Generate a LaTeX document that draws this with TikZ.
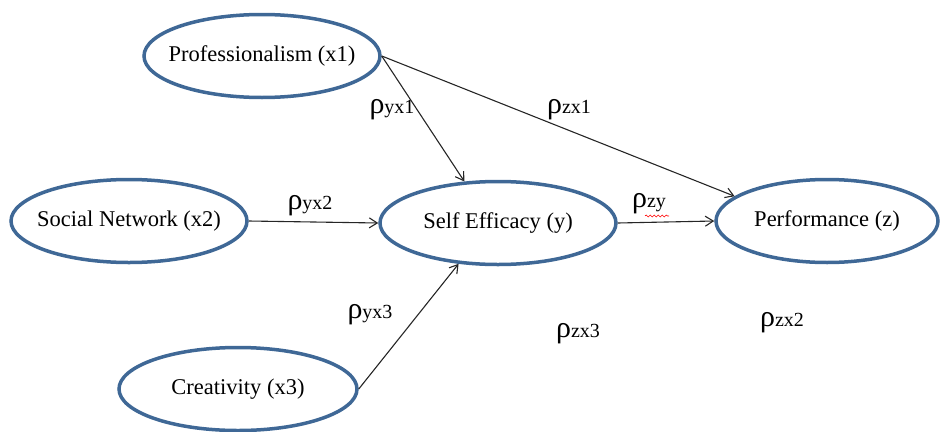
\documentclass[tikz,border=0pt]{standalone}
\usepackage{fontspec}
\setmainfont{Liberation Serif}
\usetikzlibrary{arrows.meta,shapes.geometric,decorations.pathmorphing}

\definecolor{varblue}{RGB}{63,104,150}
\newcommand{\rhocoef}[1]{{\fontsize{30}{30}\selectfont ρ}{\fontsize{20}{20}\selectfont #1}}

\tikzset{
  var/.style={ellipse, draw=varblue, line width=3.5pt, minimum width=236pt,
    minimum height=83pt, inner xsep=-14pt, inner ysep=0pt, font=\fontsize{22.5}{26}\selectfont},
  link/.style={draw=black!85, line width=1.1pt, -{Straight Barb[length=8pt,width=10pt]}},
  coef/.style={inner sep=0pt}
}

\begin{document}
\begin{tikzpicture}[x=1pt,y=-1pt]

      % keep the page the size of the reference
      \useasboundingbox (0,0) rectangle (941,431);

      % the five variables
      \node[var] (prof) at (262,56) {Professionalism (x1)};
      \node[var] (soc) at (129,221) {Social Network (x2)};
      \node[var] (self) at (498,223) {Self Efficacy (y)};
      \node[var, minimum width=222pt] (perf) at (827,221) {Performance (z)};
      \node[var, minimum width=238pt] (crea) at (238,389) {Creativity (x3)};

      % paths between them
      \draw[link] (prof.east) -- (self.129);
      \draw[link] (prof.east) -- (perf.165);
      \draw[link] (soc.east) -- (self.west);
      \draw[link] (crea.east) -- (self.226);
      \draw[link] (self.east) -- (perf.west);

      % path coefficients
      \node[coef] (ryx1) at (392,110) {\rhocoef{yx1}};
      \node[coef] (rzx1) at (569,110) {\rhocoef{zx1}};
      \node[coef] (ryx2) at (310,206) {\rhocoef{yx2}};
      \node[coef] (rzy) at (649,204) {\rhocoef{zy}};
      \node[coef] (ryx3) at (370,315) {\rhocoef{yx3}};
      \node[coef] (rzx3) at (578,334) {\rhocoef{zx3}};
      \node[coef] (rzx2) at (782,323) {\rhocoef{zx2}};

      % red wavy underline below zy
      \draw[red, line width=0.6pt, decorate, decoration={snake, amplitude=1pt, segment length=4pt}]
        (645,216) -- (669,216);
    \end{tikzpicture}
\end{document}
